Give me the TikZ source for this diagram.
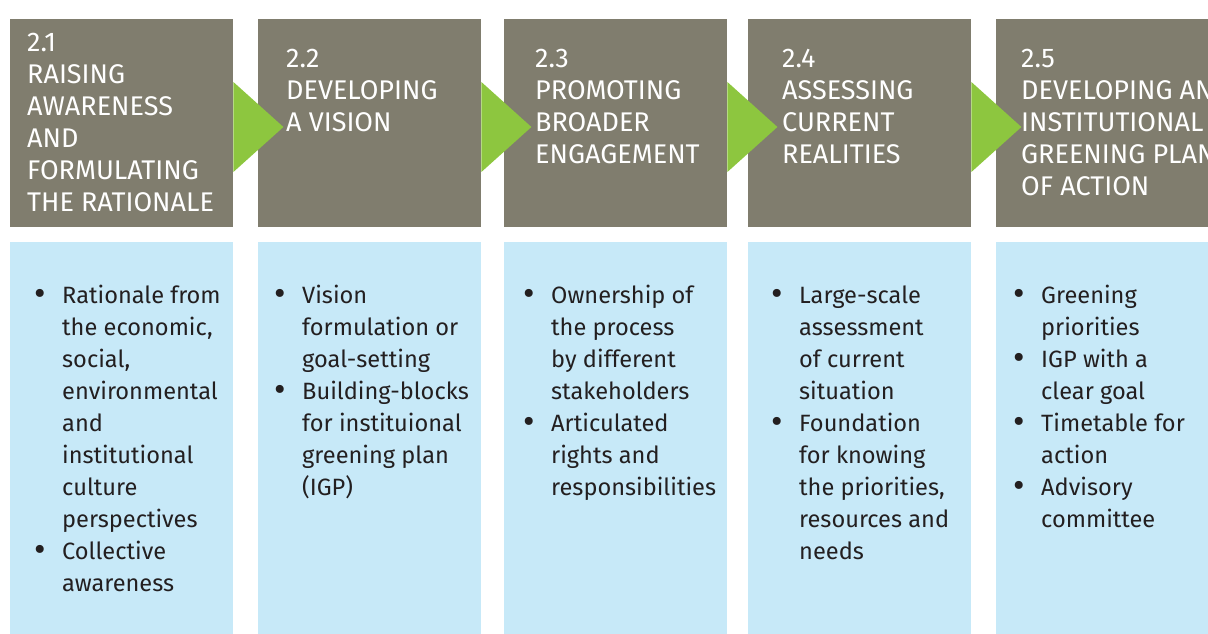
\documentclass[tikz,border=0pt]{standalone}
\usepackage{fontspec}
\IfFontExistsTF{FiraSans-Light.otf}{\setmainfont{FiraSans-Light.otf}}{\setmainfont{Fira Sans}}
\definecolor{hdrgrey}{RGB}{128,125,110}
\definecolor{arrgreen}{RGB}{141,198,63}
\definecolor{bodyblue}{RGB}{199,233,248}
\definecolor{bodytext}{RGB}{35,31,32}
\newcommand\bul{\leavevmode\llap{\raisebox{-2.5pt}{\scalebox{1.5}{\textbullet}}\hspace{16pt}}}
\tikzset{
  hdrbox/.style={rectangle, fill=hdrgrey, draw=none, anchor=north west, minimum width=223pt, minimum height=208pt, inner sep=0pt},
  bodybox/.style={rectangle, fill=bodyblue, draw=none, anchor=north west, minimum width=223pt, minimum height=392pt, inner sep=0pt},
  hdrtext/.style={anchor=base west, inner sep=0pt, text=white, font=\fontsize{27}{32}\selectfont},
  listtext/.style={anchor=base west, inner sep=0pt, text=bodytext, font=\fontsize{23.6}{32}\selectfont},
  arrowtri/.style={fill=arrgreen, draw=none}
}
\begin{document}
\begin{tikzpicture}[x=1pt,y=-1pt]
\useasboundingbox (0,0) rectangle (1208,634);
\clip (0,0) rectangle (1208,634);
% header boxes
\node[hdrbox] (h1) at (10,19) {};
\node[hdrbox] (h2) at (258,19) {};
\node[hdrbox] (h3) at (504,19) {};
\node[hdrbox] (h4) at (748,19) {};
\node[hdrbox] (h5) at (996,19) {};
% body boxes
\node[bodybox] (b1) at (10,242) {};
\node[bodybox] (b2) at (258,242) {};
\node[bodybox] (b3) at (504,242) {};
\node[bodybox] (b4) at (748,242) {};
\node[bodybox] (b5) at (996,242) {};
% arrows
\foreach \a in {1,2,3,4}{
  \fill[arrowtri] ([yshift=-63pt]h\a.north east) -- ([xshift=50pt,yshift=-108pt]h\a.north east) -- ([yshift=-153pt]h\a.north east) -- cycle;
}
% header texts
\node[hdrtext] (t1) at (27,52) {\parbox[t]{220pt}{2.1\\RAISING\\AWARENESS\\AND\\FORMULATING\\THE RATIONALE}};
\node[hdrtext] (t2) at (286,68) {\parbox[t]{220pt}{2.2\\DEVELOPING\\A VISION}};
\node[hdrtext] (t3) at (535,68) {\parbox[t]{220pt}{2.3\\PROMOTING\\BROADER\\ENGAGEMENT}};
\node[hdrtext] (t4) at (782,68) {\parbox[t]{220pt}{2.4\\ASSESSING\\CURRENT\\REALITIES}};
\node[hdrtext] (t5) at (1021,68) {\parbox[t]{220pt}{2.5\\DEVELOPING AN\\INSTITUTIONAL\\GREENING PLAN\\OF ACTION}};
% lists
\node[listtext] (l1) at (62,303) {\parbox[t]{200pt}{\bul Rationale from\\the economic,\\social,\\environmental\\and\\institutional\\culture\\perspectives\\\bul Collective\\awareness}};
\node[listtext] (l2) at (302,303) {\parbox[t]{200pt}{\bul Vision\\formulation or\\goal-setting\\\bul Building-blocks\\for instituional\\greening plan\\(IGP)}};
\node[listtext] (l3) at (551,303) {\parbox[t]{200pt}{\bul Ownership of\\the process\\by different\\stakeholders\\\bul Articulated\\rights and\\responsibilities}};
\node[listtext] (l4) at (799,303) {\parbox[t]{200pt}{\bul Large-scale\\assessment\\of current\\situation\\\bul Foundation\\for knowing\\the priorities,\\resources and\\needs}};
\node[listtext] (l5) at (1041,303) {\parbox[t]{200pt}{\bul Greening\\priorities\\\bul IGP with a\\clear goal\\\bul Timetable for\\action\\\bul Advisory\\committee}};
\end{tikzpicture}
\end{document}
